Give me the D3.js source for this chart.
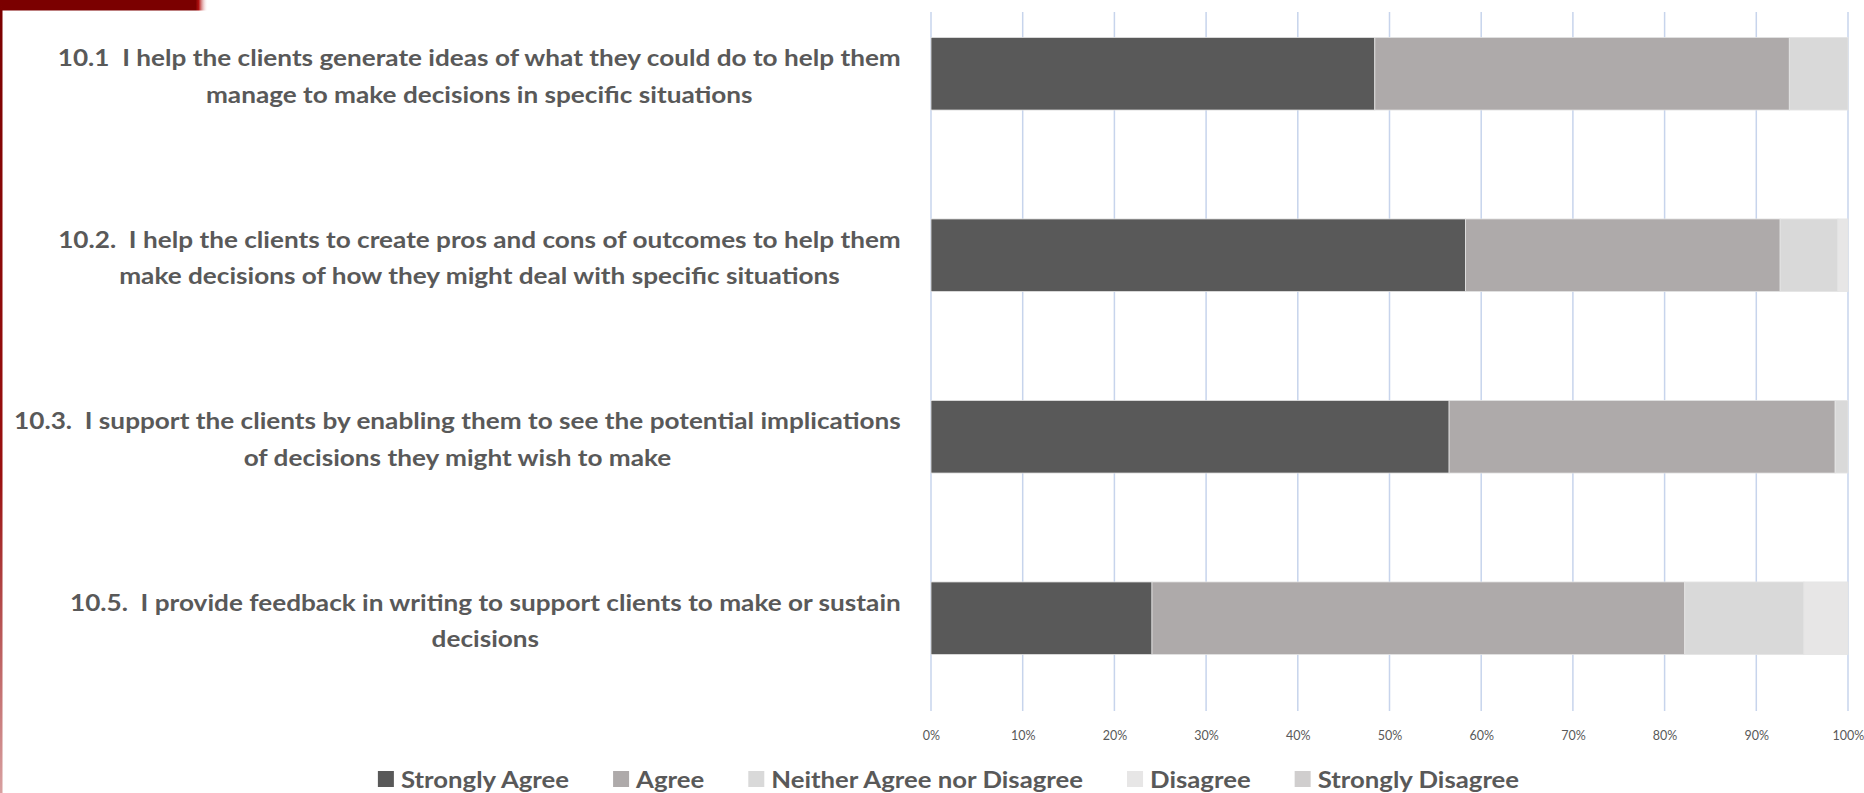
<!DOCTYPE html>
<html>
<head>
<meta charset="utf-8">
<script src="https://cdn.jsdelivr.net/npm/d3@7"></script>
<style>
  html, body { margin: 0; padding: 0; background: #ffffff; }
  svg { display: block; }
  svg text { white-space: pre; }
</style>
</head>
<body>
<script>
// Survey items (each label is already split into its wrapped lines)
const categories = ["10.1", "10.2", "10.3", "10.5"];
const labelLines = [
  ["10.1  I help the clients generate ideas of what they could do to help them",
   "manage to make decisions in specific situations"],
  ["10.2.  I help the clients to create pros and cons of outcomes to help them",
   "make decisions of how they might deal with specific situations"],
  ["10.3.  I support the clients by enabling them to see the potential implications",
   "of decisions they might wish to make"],
  ["10.5.  I provide feedback in writing to support clients to make or sustain",
   "decisions"]
];

// Response shares (%) per item
const seriesNames = ["Strongly Agree", "Agree", "Neither Agree nor Disagree", "Disagree", "Strongly Disagree"];
const stronglyAgree    = [48.4, 58.3, 56.5, 24.1];
const agree            = [45.2, 34.3, 42.1, 58.1];
const neither          = [6.4, 6.3, 1.4, 13.0];
const disagree         = [0.0, 1.1, 0.0, 4.8];
const stronglyDisagree = [0.0, 0.0, 0.0, 0.0];
const seriesColors = ["#595959", "#aeaaaa", "#d9d9d9", "#e7e6e6", "#d0cece"];

// Axis ticks
const tickValues = [0, 10, 20, 30, 40, 50, 60, 70, 80, 90, 100];
const tickLabels = ["0%", "10%", "20%", "30%", "40%", "50%", "60%", "70%", "80%", "90%", "100%"];

const W = 1864, H = 793;
const FONT = "Lato, 'Open Sans', sans-serif";
const TEXT = "#595959";

const rows = categories.map((c, i) => ({
  cat: c,
  [seriesNames[0]]: stronglyAgree[i],
  [seriesNames[1]]: agree[i],
  [seriesNames[2]]: neither[i],
  [seriesNames[3]]: disagree[i],
  [seriesNames[4]]: stronglyDisagree[i]
}));

const svg = d3.select("body").append("svg")
  .attr("width", W).attr("height", H)
  .attr("viewBox", `0 0 ${W} ${H}`);

// Slide decoration: dark red banner and left rule
const defs = svg.append("defs");
const gTop = defs.append("linearGradient").attr("id", "bannerFade")
  .attr("x1", "0").attr("x2", "1").attr("y1", "0").attr("y2", "0");
gTop.append("stop").attr("offset", "0.94").attr("stop-color", "#7b0000");
gTop.append("stop").attr("offset", "0.955").attr("stop-color", "#b01010");
gTop.append("stop").attr("offset", "1").attr("stop-color", "#ffffff").attr("stop-opacity", 0);
const gLeft = defs.append("linearGradient").attr("id", "ruleFade")
  .attr("x1", "0").attr("x2", "0").attr("y1", "0").attr("y2", "1");
gLeft.append("stop").attr("offset", "0").attr("stop-color", "#7b0000");
gLeft.append("stop").attr("offset", "0.6").attr("stop-color", "#9a1010");
gLeft.append("stop").attr("offset", "1").attr("stop-color", "#d8a0a0");

svg.append("rect").attr("x", 0).attr("y", 0).attr("width", 208).attr("height", 10.5)
  .attr("fill", "url(#bannerFade)");
svg.append("rect").attr("x", 0).attr("y", 0).attr("width", 2.5).attr("height", H)
  .attr("fill", "url(#ruleFade)");

// Scales
const x = d3.scaleLinear().domain([0, 100]).range([931, 1848]);
const y = d3.scaleBand().domain(categories).range([-17, 709])
  .paddingInner(0.6).paddingOuter(0.3);
const gridTop = 12, gridBottom = 711;

// Vertical gridlines
svg.append("g").selectAll("line").data(tickValues).join("line")
  .attr("x1", d => x(d)).attr("x2", d => x(d))
  .attr("y1", gridTop).attr("y2", gridBottom)
  .attr("stroke", "#c7d4ec").attr("stroke-width", 1.5);

// Stacked bars
const stack = d3.stack().keys(seriesNames);
const layers = stack(rows);
svg.append("g").selectAll("g").data(layers).join("g")
  .attr("fill", (d, i) => seriesColors[i])
  .selectAll("rect").data(d => d).join("rect")
    .attr("x", d => x(d[0]))
    .attr("width", d => Math.max(0, x(d[1]) - x(d[0])))
    .attr("y", d => y(d.data.cat))
    .attr("height", y.bandwidth())
    .attr("stroke", "#e4e4e4").attr("stroke-width", 0.8)
    .attr("stroke-opacity", d => (d[1] - d[0]) > 0 ? 1 : 0);

// Percentage axis (labels only)
const axis = d3.axisBottom(x).tickValues(tickValues)
  .tickFormat((d, i) => tickLabels[i]).tickSize(0);
const ax = svg.append("g").attr("transform", `translate(0, 728)`).call(axis);
ax.select(".domain").remove();
ax.selectAll("text").attr("font-family", FONT).attr("font-size", 12.5)
  .attr("fill", TEXT).attr("dy", "0.71em");

// Category labels: wrapped lines centred within a block right-aligned to the plot
const labelRight = 901, lineGap = 36.5, labelStretch = 1.138;
categories.forEach((c, i) => {
  const lines = labelLines[i];
  const cy = y(c) + y.bandwidth() / 2 + 2;
  const g = svg.append("g");
  const texts = g.selectAll("text").data(lines).join("text")
    .attr("font-family", FONT).attr("font-weight", "bold").attr("font-size", 23)
    .attr("fill", TEXT).attr("text-anchor", "middle").attr("dominant-baseline", "central")
    .attr("x", 0)
    .attr("y", (d, k) => cy + (k - (lines.length - 1) / 2) * lineGap)
    .text(d => d);
  let maxW = 0;
  texts.each(function () { maxW = Math.max(maxW, this.getComputedTextLength()); });
  g.attr("transform", `translate(${labelRight - maxW * labelStretch / 2},0) scale(${labelStretch},1)`);
});

// Legend
const legend = svg.append("g");
const sw = 16, swGap = 7, itemGap = 44, legendStretch = 1.12;
let lx = 0;
seriesNames.forEach((name, i) => {
  const item = legend.append("g").attr("transform", `translate(${lx},0)`);
  item.append("rect").attr("x", 0).attr("y", -sw / 2).attr("width", sw).attr("height", sw)
    .attr("fill", seriesColors[i]);
  const t = item.append("text")
    .attr("transform", `translate(${sw + swGap},0) scale(${legendStretch},1)`)
    .attr("font-family", FONT).attr("font-weight", "bold").attr("font-size", 23)
    .attr("fill", TEXT).attr("dominant-baseline", "central").text(name);
  lx += sw + swGap + t.node().getComputedTextLength() * legendStretch + itemGap;
});
const legendW = lx - itemGap;
legend.attr("transform", `translate(${948.5 - legendW / 2}, 779)`);
</script>
</body>
</html>
